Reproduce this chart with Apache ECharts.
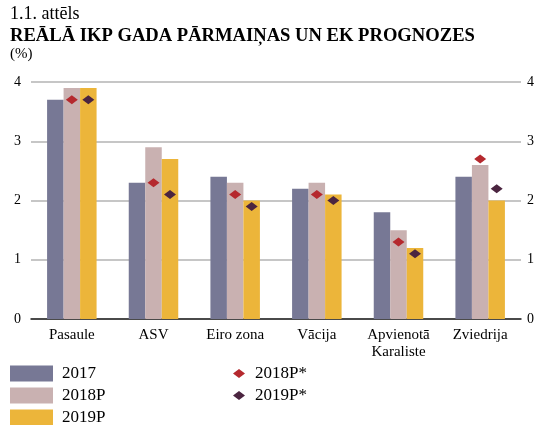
<!DOCTYPE html>
<html><head><meta charset="utf-8">
<script src="https://cdn.jsdelivr.net/npm/echarts@6/dist/echarts.min.js"></script>
<style>html,body{margin:0;padding:0;background:#fff}#c{width:542px;height:425px}</style>
</head><body><div id="c"></div>
<script>
const categories = ['Pasaule', 'ASV', 'Eiro zona', 'Vācija', 'Apvienotā\nKaraliste', 'Zviedrija'];
const s2017 = [3.7, 2.3, 2.4, 2.2, 1.8, 2.4];
const s2018P = [3.9, 2.9, 2.3, 2.3, 1.5, 2.6];
const s2019P = [3.9, 2.7, 2.0, 2.1, 1.2, 2.0];
const s2018Pstar = [3.7, 2.3, 2.1, 2.1, 1.3, 2.7];
const s2019Pstar = [3.7, 2.1, 1.9, 2.0, 1.1, 2.2];
const yTicks = [0, 1, 2, 3, 4];

const F = 'Liberation Serif, Times New Roman, serif';
const chart = echarts.init(document.getElementById('c'), null, {renderer: 'canvas'});
const BW = 16.5;
const yBase = {
  type: 'value', min: yTicks[0], max: yTicks[yTicks.length - 1], interval: 1,
  axisLine: {show: false}, axisTick: {show: false},
  axisLabel: {color: '#000', fontFamily: F, fontSize: 14}
};
const lt = {fontFamily: F, fontSize: 17, color: '#000', padding: [0, 0, 0, 4]};
function barLegend(name, top) {
  return {data: [name], left: 10, top: top, itemWidth: 43, itemHeight: 16, padding: 0, icon: 'rect', itemGap: 0, textStyle: lt};
}
function dotLegend(name, top) {
  return {data: [name], left: 233, top: top, itemWidth: 12, itemHeight: 9, padding: 0, icon: 'diamond', textStyle: Object.assign({}, lt, {padding: [0, 0, 0, 5]})};
}
chart.setOption({
  animation: false,
  title: [
    {text: '1.1. attēls', left: 10, top: 5, padding: 0, textStyle: {fontFamily: F, fontSize: 18, fontWeight: 'normal', color: '#000'}},
    {text: 'REĀLĀ IKP GADA PĀRMAIŅAS UN EK PROGNOZES', left: 10, top: 27, padding: 0, textStyle: {fontFamily: F, fontSize: 18.6, fontWeight: 'bold', color: '#000'}},
    {text: '(%)', left: 10, top: 47, padding: 0, textStyle: {fontFamily: F, fontSize: 15, fontWeight: 'normal', color: '#000'}}
  ],
  grid: {left: 31, right: 21, top: 82, bottom: 106},
  xAxis: {
    type: 'category', data: categories,
    axisLine: {lineStyle: {color: '#222', width: 1.5}}, axisTick: {show: false},
    axisLabel: {color: '#000', fontFamily: F, fontSize: 15, margin: 8, lineHeight: 17}
  },
  yAxis: [
    Object.assign({}, yBase, {position: 'left', axisLabel: Object.assign({}, yBase.axisLabel, {margin: 10}),
      splitLine: {lineStyle: {color: '#b3b3b3', width: 1.5}}}),
    Object.assign({}, yBase, {position: 'right', axisLabel: Object.assign({}, yBase.axisLabel, {margin: 6}),
      splitLine: {show: false}})
  ],
  legend: [
    barLegend('2017', 365),
    barLegend('2018P', 387),
    barLegend('2019P', 409),
    dotLegend('2018P*', 365),
    dotLegend('2019P*', 387)
  ],
  series: [
    {name: '2017', type: 'bar', data: s2017, barWidth: BW, barGap: '0%', itemStyle: {color: '#777895'}},
    {name: '2018P', type: 'bar', data: s2018P, barWidth: BW, barGap: '0%', itemStyle: {color: '#c9b1b1'}},
    {name: '2019P', type: 'bar', data: s2019P, barWidth: BW, barGap: '0%', itemStyle: {color: '#ecb53a'}},
    {name: '2018P*', type: 'scatter', data: s2018Pstar, symbol: 'diamond', symbolSize: [12, 9], z: 5,
      itemStyle: {color: '#b5292e', opacity: 1}},
    {name: '2019P*', type: 'scatter', data: s2019Pstar, symbol: 'diamond', symbolSize: [12, 9], symbolOffset: [BW, 0], z: 5,
      itemStyle: {color: '#4b2540', opacity: 1}}
  ]
});
</script></body></html>
